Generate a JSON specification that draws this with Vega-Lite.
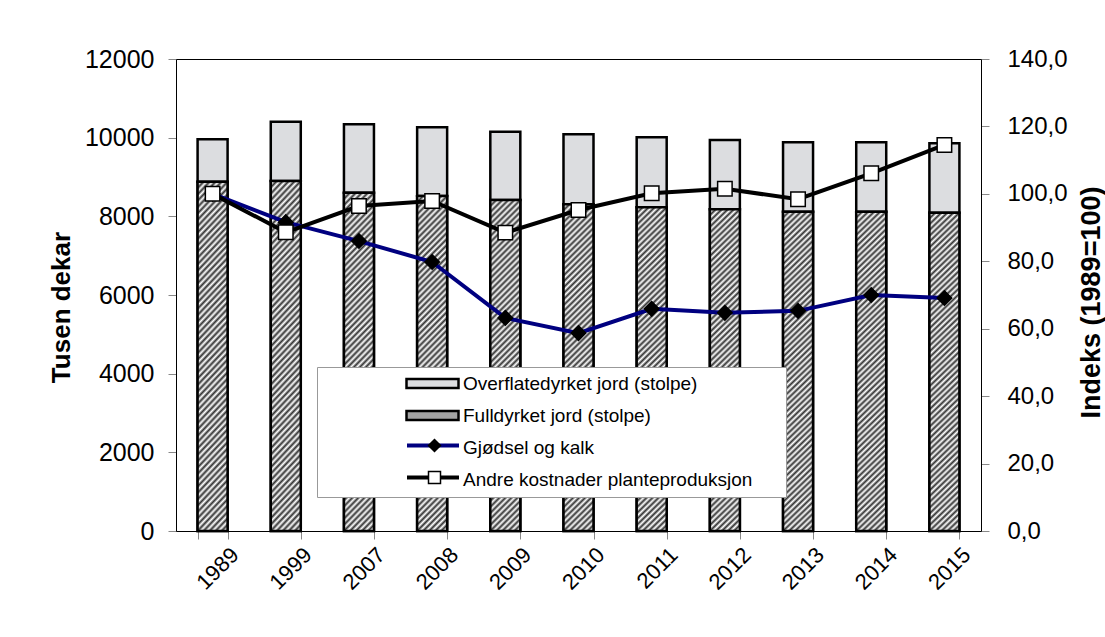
{
  "$schema": "https://vega.github.io/schema/vega-lite/v6.json",
  "width": 805,
  "height": 472,
  "autosize": {"type": "none"},
  "padding": {"left": 176, "top": 59, "right": 124, "bottom": 106},
  "background": "white",
  "config": {
    "font": "Liberation Sans",
    "view": {"stroke": "black", "strokeWidth": 1},
    "axis": {
      "labelFont": "Liberation Sans",
      "titleFont": "Liberation Sans",
      "labelColor": "black",
      "titleColor": "black",
      "grid": false,
      "domainColor": "black",
      "domainWidth": 1,
      "tickColor": "#888",
      "tickSize": 8
    },
    "legend": {
      "labelFont": "Liberation Sans",
      "labelFontSize": 19,
      "labelColor": "black",
      "labelLimit": 600,
      "orient": "none",
      "direction": "vertical",
      "padding": 7,
      "clipHeight": 19,
      "rowPadding": 12,
      "labelOffset": 3
    }
  },
  "data": {
    "values": [
      {"year": "1989", "serie": "Fulldyrket jord (stolpe)", "verdi": 8880},
      {"year": "1999", "serie": "Fulldyrket jord (stolpe)", "verdi": 8898},
      {"year": "2007", "serie": "Fulldyrket jord (stolpe)", "verdi": 8601},
      {"year": "2008", "serie": "Fulldyrket jord (stolpe)", "verdi": 8517},
      {"year": "2009", "serie": "Fulldyrket jord (stolpe)", "verdi": 8415},
      {"year": "2010", "serie": "Fulldyrket jord (stolpe)", "verdi": 8306},
      {"year": "2011", "serie": "Fulldyrket jord (stolpe)", "verdi": 8230},
      {"year": "2012", "serie": "Fulldyrket jord (stolpe)", "verdi": 8179},
      {"year": "2013", "serie": "Fulldyrket jord (stolpe)", "verdi": 8118},
      {"year": "2014", "serie": "Fulldyrket jord (stolpe)", "verdi": 8118},
      {"year": "2015", "serie": "Fulldyrket jord (stolpe)", "verdi": 8093},
      {"year": "1989", "serie": "Overflatedyrket jord (stolpe)", "verdi": 1078},
      {"year": "1999", "serie": "Overflatedyrket jord (stolpe)", "verdi": 1508},
      {"year": "2007", "serie": "Overflatedyrket jord (stolpe)", "verdi": 1739},
      {"year": "2008", "serie": "Overflatedyrket jord (stolpe)", "verdi": 1746},
      {"year": "2009", "serie": "Overflatedyrket jord (stolpe)", "verdi": 1737},
      {"year": "2010", "serie": "Overflatedyrket jord (stolpe)", "verdi": 1780},
      {"year": "2011", "serie": "Overflatedyrket jord (stolpe)", "verdi": 1779},
      {"year": "2012", "serie": "Overflatedyrket jord (stolpe)", "verdi": 1762},
      {"year": "2013", "serie": "Overflatedyrket jord (stolpe)", "verdi": 1764},
      {"year": "2014", "serie": "Overflatedyrket jord (stolpe)", "verdi": 1764},
      {"year": "2015", "serie": "Overflatedyrket jord (stolpe)", "verdi": 1764},
      {"year": "1989", "serie": "Gjødsel og kalk", "verdi": 100.0},
      {"year": "1999", "serie": "Gjødsel og kalk", "verdi": 91.6},
      {"year": "2007", "serie": "Gjødsel og kalk", "verdi": 86.0},
      {"year": "2008", "serie": "Gjødsel og kalk", "verdi": 79.8},
      {"year": "2009", "serie": "Gjødsel og kalk", "verdi": 63.2},
      {"year": "2010", "serie": "Gjødsel og kalk", "verdi": 58.7},
      {"year": "2011", "serie": "Gjødsel og kalk", "verdi": 65.9},
      {"year": "2012", "serie": "Gjødsel og kalk", "verdi": 64.7},
      {"year": "2013", "serie": "Gjødsel og kalk", "verdi": 65.3},
      {"year": "2014", "serie": "Gjødsel og kalk", "verdi": 70.0},
      {"year": "2015", "serie": "Gjødsel og kalk", "verdi": 69.1},
      {"year": "1989", "serie": "Andre kostnader planteproduksjon", "verdi": 100.0},
      {"year": "1999", "serie": "Andre kostnader planteproduksjon", "verdi": 88.6},
      {"year": "2007", "serie": "Andre kostnader planteproduksjon", "verdi": 96.4},
      {"year": "2008", "serie": "Andre kostnader planteproduksjon", "verdi": 97.9},
      {"year": "2009", "serie": "Andre kostnader planteproduksjon", "verdi": 88.5},
      {"year": "2010", "serie": "Andre kostnader planteproduksjon", "verdi": 95.2},
      {"year": "2011", "serie": "Andre kostnader planteproduksjon", "verdi": 100.2},
      {"year": "2012", "serie": "Andre kostnader planteproduksjon", "verdi": 101.5},
      {"year": "2013", "serie": "Andre kostnader planteproduksjon", "verdi": 98.4},
      {"year": "2014", "serie": "Andre kostnader planteproduksjon", "verdi": 106.1},
      {"year": "2015", "serie": "Andre kostnader planteproduksjon", "verdi": 114.5}
    ]
  },
  "layer": [
    {
      "encoding": {
        "x": {
          "field": "year",
          "type": "ordinal",
          "scale": {"paddingInner": 0.59, "paddingOuter": 0.295},
          "axis": {
            "title": null,
            "labelAngle": -45,
            "labelFontSize": 22,
            "labelAlign": "right",
            "labelBaseline": "middle",
            "labelOffset": 22,
            "labelPadding": 12,
            "tickBand": "extent"
          }
        },
        "y": {
          "field": "verdi",
          "type": "quantitative",
          "stack": "zero",
          "scale": {"domain": [0, 12000], "nice": false},
          "axis": {
            "title": "Tusen dekar",
            "titleFontSize": 26,
            "titleFontWeight": "bold",
            "titleAngle": 270,
            "titleAlign": "center",
            "titleBaseline": "middle",
            "titleX": -115,
            "titleY": 248,
            "values": [0, 2000, 4000, 6000, 8000, 10000, 12000],
            "format": "d",
            "labelFontSize": 25,
            "labelPadding": 14
          }
        }
      },
      "layer": [
        {
          "transform": [{"filter": {"field": "serie", "oneOf": ["Overflatedyrket jord (stolpe)", "Fulldyrket jord (stolpe)"]}}],
          "mark": {"type": "bar", "stroke": "black", "strokeWidth": 2.5},
          "encoding": {
            "order": {"field": "serie", "sort": "ascending"},
            "fill": {
              "field": "serie",
              "type": "nominal",
              "scale": {
                "domain": ["Overflatedyrket jord (stolpe)", "Fulldyrket jord (stolpe)", "Gjødsel og kalk", "Andre kostnader planteproduksjon"],
                "range": ["#dcdde0", "#a3a3a3", "transparent", "transparent"]
              },
              "legend": {
                "title": ".",
                "titleOrient": "right",
                "titleOpacity": 0,
                "titleFontSize": 19,
                "titlePadding": 21,
                "legendX": 141,
                "legendY": 308,
                "fillColor": "white",
                "strokeColor": "#999",
                "cornerRadius": 0,
                "symbolType": "M-1,-0.17H1V0.17H-1Z",
                "symbolSize": 2704,
                "symbolStrokeWidth": 2.5,
                "symbolStrokeColor": {"expr": "datum.value === 'Overflatedyrket jord (stolpe)' || datum.value === 'Fulldyrket jord (stolpe)' ? 'black' : 'transparent'"},
                "symbolOffset": 81,
                "labelOffset": 3
              }
            }
          }
        },
        {
          "transform": [{"filter": {"field": "serie", "equal": "Fulldyrket jord (stolpe)"}}],
          "mark": {
            "type": "bar",
            "stroke": "black",
            "strokeWidth": 2.5,
            "fill": {
              "gradient": "linear", "x1": 0, "y1": 0, "x2": 0.0983, "y2": 1.082,
              "stops": [
                {"offset": 0, "color": "#333"}, {"offset": 0.00833, "color": "#fff"}, {"offset": 0.01667, "color": "#333"}, {"offset": 0.025, "color": "#fff"},
                {"offset": 0.03333, "color": "#333"}, {"offset": 0.04167, "color": "#fff"}, {"offset": 0.05, "color": "#333"}, {"offset": 0.05833, "color": "#fff"},
                {"offset": 0.06667, "color": "#333"}, {"offset": 0.075, "color": "#fff"}, {"offset": 0.08333, "color": "#333"}, {"offset": 0.09167, "color": "#fff"},
                {"offset": 0.1, "color": "#333"}, {"offset": 0.10833, "color": "#fff"}, {"offset": 0.11667, "color": "#333"}, {"offset": 0.125, "color": "#fff"},
                {"offset": 0.13333, "color": "#333"}, {"offset": 0.14167, "color": "#fff"}, {"offset": 0.15, "color": "#333"}, {"offset": 0.15833, "color": "#fff"},
                {"offset": 0.16667, "color": "#333"}, {"offset": 0.175, "color": "#fff"}, {"offset": 0.18333, "color": "#333"}, {"offset": 0.19167, "color": "#fff"},
                {"offset": 0.2, "color": "#333"}, {"offset": 0.20833, "color": "#fff"}, {"offset": 0.21667, "color": "#333"}, {"offset": 0.225, "color": "#fff"},
                {"offset": 0.23333, "color": "#333"}, {"offset": 0.24167, "color": "#fff"}, {"offset": 0.25, "color": "#333"}, {"offset": 0.25833, "color": "#fff"},
                {"offset": 0.26667, "color": "#333"}, {"offset": 0.275, "color": "#fff"}, {"offset": 0.28333, "color": "#333"}, {"offset": 0.29167, "color": "#fff"},
                {"offset": 0.3, "color": "#333"}, {"offset": 0.30833, "color": "#fff"}, {"offset": 0.31667, "color": "#333"}, {"offset": 0.325, "color": "#fff"},
                {"offset": 0.33333, "color": "#333"}, {"offset": 0.34167, "color": "#fff"}, {"offset": 0.35, "color": "#333"}, {"offset": 0.35833, "color": "#fff"},
                {"offset": 0.36667, "color": "#333"}, {"offset": 0.375, "color": "#fff"}, {"offset": 0.38333, "color": "#333"}, {"offset": 0.39167, "color": "#fff"},
                {"offset": 0.4, "color": "#333"}, {"offset": 0.40833, "color": "#fff"}, {"offset": 0.41667, "color": "#333"}, {"offset": 0.425, "color": "#fff"},
                {"offset": 0.43333, "color": "#333"}, {"offset": 0.44167, "color": "#fff"}, {"offset": 0.45, "color": "#333"}, {"offset": 0.45833, "color": "#fff"},
                {"offset": 0.46667, "color": "#333"}, {"offset": 0.475, "color": "#fff"}, {"offset": 0.48333, "color": "#333"}, {"offset": 0.49167, "color": "#fff"},
                {"offset": 0.5, "color": "#333"}, {"offset": 0.50833, "color": "#fff"}, {"offset": 0.51667, "color": "#333"}, {"offset": 0.525, "color": "#fff"},
                {"offset": 0.53333, "color": "#333"}, {"offset": 0.54167, "color": "#fff"}, {"offset": 0.55, "color": "#333"}, {"offset": 0.55833, "color": "#fff"},
                {"offset": 0.56667, "color": "#333"}, {"offset": 0.575, "color": "#fff"}, {"offset": 0.58333, "color": "#333"}, {"offset": 0.59167, "color": "#fff"},
                {"offset": 0.6, "color": "#333"}, {"offset": 0.60833, "color": "#fff"}, {"offset": 0.61667, "color": "#333"}, {"offset": 0.625, "color": "#fff"},
                {"offset": 0.63333, "color": "#333"}, {"offset": 0.64167, "color": "#fff"}, {"offset": 0.65, "color": "#333"}, {"offset": 0.65833, "color": "#fff"},
                {"offset": 0.66667, "color": "#333"}, {"offset": 0.675, "color": "#fff"}, {"offset": 0.68333, "color": "#333"}, {"offset": 0.69167, "color": "#fff"},
                {"offset": 0.7, "color": "#333"}, {"offset": 0.70833, "color": "#fff"}, {"offset": 0.71667, "color": "#333"}, {"offset": 0.725, "color": "#fff"},
                {"offset": 0.73333, "color": "#333"}, {"offset": 0.74167, "color": "#fff"}, {"offset": 0.75, "color": "#333"}, {"offset": 0.75833, "color": "#fff"},
                {"offset": 0.76667, "color": "#333"}, {"offset": 0.775, "color": "#fff"}, {"offset": 0.78333, "color": "#333"}, {"offset": 0.79167, "color": "#fff"},
                {"offset": 0.8, "color": "#333"}, {"offset": 0.80833, "color": "#fff"}, {"offset": 0.81667, "color": "#333"}, {"offset": 0.825, "color": "#fff"},
                {"offset": 0.83333, "color": "#333"}, {"offset": 0.84167, "color": "#fff"}, {"offset": 0.85, "color": "#333"}, {"offset": 0.85833, "color": "#fff"},
                {"offset": 0.86667, "color": "#333"}, {"offset": 0.875, "color": "#fff"}, {"offset": 0.88333, "color": "#333"}, {"offset": 0.89167, "color": "#fff"},
                {"offset": 0.9, "color": "#333"}, {"offset": 0.90833, "color": "#fff"}, {"offset": 0.91667, "color": "#333"}, {"offset": 0.925, "color": "#fff"},
                {"offset": 0.93333, "color": "#333"}, {"offset": 0.94167, "color": "#fff"}, {"offset": 0.95, "color": "#333"}, {"offset": 0.95833, "color": "#fff"},
                {"offset": 0.96667, "color": "#333"}, {"offset": 0.975, "color": "#fff"}, {"offset": 0.98333, "color": "#333"}, {"offset": 0.99167, "color": "#fff"},
                {"offset": 1, "color": "#333"}
              ]
            }
          }
        }
      ]
    },
    {
      "transform": [{"filter": {"field": "serie", "oneOf": ["Gjødsel og kalk", "Andre kostnader planteproduksjon"]}}],
      "encoding": {
        "x": {"field": "year", "type": "ordinal"},
        "y": {
          "field": "verdi",
          "type": "quantitative",
          "scale": {"domain": [0, 140], "nice": false},
          "axis": {
            "orient": "right",
            "title": "Indeks (1989=100)",
            "titleFontSize": 27,
            "titleFontWeight": "bold",
            "titleAngle": 270,
            "titleAlign": "center",
            "titleBaseline": "middle",
            "titleX": 110,
            "titleY": 243,
            "values": [0, 20, 40, 60, 80, 100, 120, 140],
            "labelExpr": "replace(format(datum.value, '.1f'), '.', ',')",
            "labelFontSize": 24,
            "labelPadding": 18
          }
        }
      },
      "layer": [
        {
          "mark": {"type": "line", "strokeWidth": 4},
          "encoding": {
            "color": {
              "field": "serie",
              "type": "nominal",
              "scale": {
                "domain": ["Gjødsel og kalk", "Andre kostnader planteproduksjon"],
                "range": ["#000080", "#000000"]
              },
              "legend": {
                "title": null,
                "legendX": 141,
                "legendY": 370,
                "symbolType": "M-1,0H1",
                "symbolSize": 2704,
                "symbolStrokeWidth": 4,
                "symbolOffset": 81,
                "labelExpr": "''",
                "labelOpacity": 0
              }
            }
          }
        },
        {
          "mark": {"type": "point", "filled": true, "opacity": 1, "stroke": "black", "strokeWidth": 1.5, "size": 210},
          "encoding": {
            "fill": {
              "field": "serie",
              "type": "nominal",
              "scale": {
                "domain": ["Andre kostnader planteproduksjon", "Gjødsel og kalk"],
                "range": ["white", "black"]
              },
              "legend": null
            },
            "shape": {
              "field": "serie",
              "type": "nominal",
              "scale": {
                "domain": ["Andre kostnader planteproduksjon", "Gjødsel og kalk"],
                "range": ["square", "diamond"]
              },
              "legend": {
                "title": null,
                "values": ["Gjødsel og kalk", "Andre kostnader planteproduksjon"],
                "legendX": 141,
                "legendY": 370,
                "symbolSize": 144,
                "symbolFillColor": {"expr": "datum.value === 'Gjødsel og kalk' ? 'black' : 'white'"},
                "symbolStrokeColor": "black",
                "symbolStrokeWidth": 1.5,
                "symbolOffset": 101,
                "labelExpr": "''",
                "labelOpacity": 0
              }
            }
          }
        }
      ]
    }
  ],
  "resolve": {"scale": {"y": "independent", "fill": "independent", "color": "independent", "shape": "independent"}}
}
